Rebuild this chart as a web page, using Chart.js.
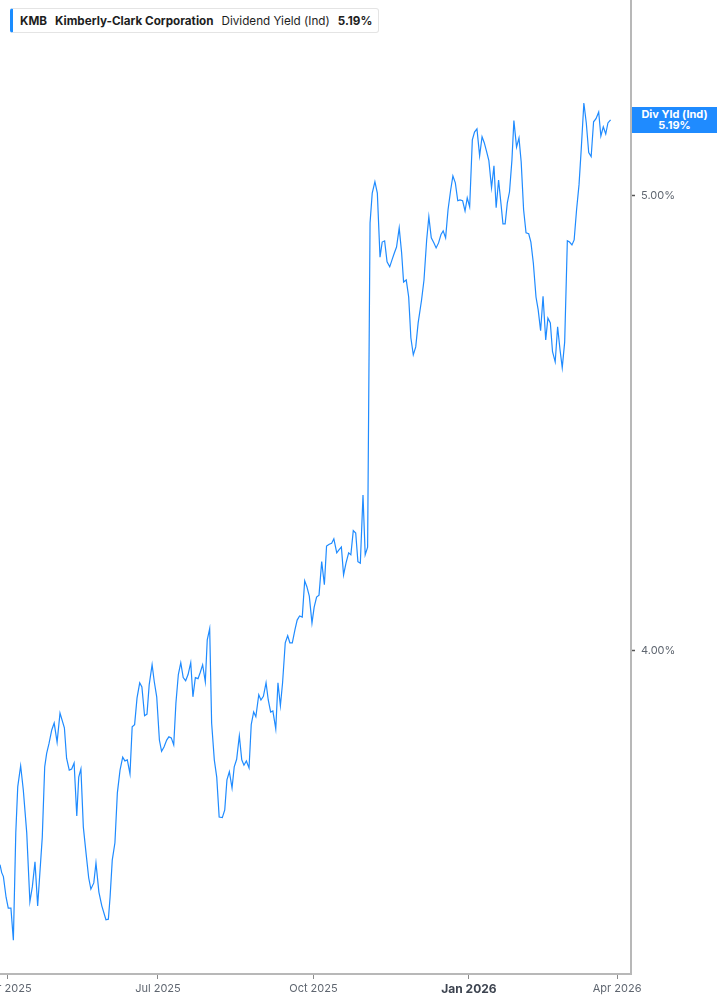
<!DOCTYPE html>
<html>
<head>
<meta charset="utf-8">
<script src="https://cdn.jsdelivr.net/npm/chart.js@4"></script>
<style>
  html, body { margin: 0; padding: 0; background: #fff; }
  #wrap { position: relative; width: 717px; height: 1005px; overflow: hidden; }
  canvas { position: absolute; left: 0; top: 0; }
  #legend {
    position: absolute; left: 10px; top: 8px; height: 23px;
    border: 1px solid #e4e4e4; border-left: 3px solid #1a8cff; border-radius: 3px;
    background: #fff; display: flex; align-items: center; padding: 0 6px 0 7px;
    font-family: Inter, "Noto Sans", sans-serif; font-size: 11.7px; color: #1e1e1e; white-space: nowrap;
  }
  #legend span { margin-right: 8px; }
  #legend span:last-child { margin-right: 0; }
  #legend .b { font-weight: 700; }
  #badge {
    position: absolute; left: 632px; width: 85px; height: 26px; background: #1f8bff; color: #fff;
    font-family: Inter, "Noto Sans", sans-serif; font-size: 11px; font-weight: 700; line-height: 11px;
    display: flex; flex-direction: column; justify-content: center; align-items: center; text-align: center;
  }
</style>
</head>
<body>
<div id="wrap">
  <canvas id="c" width="717" height="1005"></canvas>
  <div id="legend"><span class="b">KMB</span><span class="b">Kimberly-Clark Corporation</span><span>Dividend Yield (Ind)</span><span class="b">5.19%</span></div>
  <div id="badge"><div>Div Yld (Ind)</div><div>5.19%</div></div>
</div>
<script>
// Trading sessions counted from the first plotted day (27 Mar 2025)
const sessionIndex = [
  0,0.7,1.4,2.5,3.4,4.5,5.5,6.5,7.3,8.5,9.6,11.0,12.3,13.3,14.4,15.5,16.5,17.4,18.4,19.2,20.2,21.3,22.3,23.5,24.7,26.5,27.4,28.5,29.5,30.5,31.6,32.4,33.3,34.3,35.4,36.5,37.4,38.6,39.5,40.7,41.9,43.6,44.6,45.3,
  46.2,47.3,48.3,49.4,50.5,51.4,52.4,53.5,54.4,55.4,56.4,57.5,58.4,59.5,60.5,61.4,62.6,63.5,64.5,65.6,66.5,67.5,68.6,69.5,70.5,71.5,72.4,73.4,74.4,75.4,76.4,77.4,78.5,79.4,80.4,81.5,82.4,83.4,84.5,85.3,86.3,87.1,88.2,89.2,90.2,
  91.5,92.5,93.4,94.4,95.5,96.4,97.4,98.5,99.5,100.4,101.4,102.5,103.4,104.4,105.3,106.5,107.4,108.4,109.5,110.4,111.4,112.3,113.5,114.4,115.4,116.3,117.4,118.4,119.3,120.3,121.4,122.3,123.3,124.4,125.4,126.3,127.3,128.4,129.3,130.3,131.3,132.4,133.5,134.4,135.5,
  136.5,137.4,138.6,139.5,140.5,141.4,142.4,143.5,144.4,145.4,146.4,147.3,148.3,149.4,150.3,151.3,152.3,153.2,154.3,155.3,156.4,157.3,158.3,159.3,160.4,161.3,162.3,163.2,164.3,165.3,166.1,167.2,168.2,169.1,170.1,171.1,172.1,
  173.5,174.5,175.6,176.5,177.5,178.6,179.5,180.5,181.5,182.4,183.4,184.4,185.5,186.4,187.4,188.4,189.3,190.4,191.4,192.3,193.3,194.4,195.3,196.3,197.4,198.4,199.3,200.3,201.2,202.3,203.3,204.2,205.2,206.2,207.0,207.9,208.8,209.7,210.7,211.5,212.6,213.6,
  214.5,215.5,216.5,217.6,218.5,219.5,220.6,221.5,222.5,223.5,224.6,225.5,226.5,227.4,228.5,229.5,230.5,231.4,232.4,233.5,234.4,235.4,236.3,237.3,238.3,239.2,240.3,241.3,242.3,243.3,244.3,245.3,246.4,247.3,248.3,249.3,250.2,251.3
];
// Dividend yield (indicated), percent
const yieldPct = [
  3.602,3.588,3.581,3.545,3.526,3.526,3.471,3.659,3.742,3.781,3.736,3.659,3.537,3.563,3.607,3.530,3.593,3.651,3.779,3.804,3.823,3.848,3.861,3.825,3.880,3.852,3.795,3.773,3.775,3.786,3.689,3.760,3.775,3.669,3.623,3.579,3.559,3.570,3.605,3.554,3.530,3.506,3.507,3.545,
  3.610,3.641,3.731,3.773,3.797,3.790,3.792,3.766,3.854,3.858,3.909,3.938,3.930,3.875,3.878,3.934,3.973,3.940,3.911,3.829,3.808,3.816,3.829,3.835,3.833,3.820,3.899,3.954,3.977,3.948,3.942,3.954,3.977,3.911,3.948,3.946,3.958,3.973,3.940,4.022,4.044,3.861,3.792,3.760,3.687,
  3.686,3.700,3.755,3.770,3.740,3.779,3.793,3.837,3.792,3.782,3.790,3.777,3.858,3.882,3.873,3.915,3.905,3.912,3.938,3.905,3.882,3.884,3.850,3.938,3.894,3.938,4.016,4.030,4.016,4.016,4.042,4.061,4.069,4.067,4.140,4.128,4.109,4.055,4.087,4.107,4.111,4.179,4.132,4.211,4.215,
  4.217,4.226,4.197,4.203,4.209,4.152,4.176,4.197,4.193,4.243,4.238,4.179,4.176,4.318,4.193,4.209,4.934,5.007,5.035,5.007,4.852,4.888,4.891,4.841,4.829,4.845,4.862,4.876,4.922,4.862,4.793,4.798,4.758,4.664,4.625,4.643,4.698,
  4.751,4.798,4.893,4.949,4.898,4.886,4.874,4.886,4.906,4.915,4.898,4.966,5.015,5.049,5.032,4.988,4.990,4.988,4.963,4.995,4.973,5.139,5.159,5.167,5.099,5.147,5.132,5.109,5.087,5.020,5.074,4.971,5.039,4.980,4.932,4.932,4.983,5.010,5.089,5.188,5.121,5.144,
  5.084,4.966,4.910,4.908,4.888,4.838,4.758,4.728,4.680,4.760,4.659,4.709,4.698,4.632,4.609,4.689,4.636,4.596,4.654,4.891,4.888,4.881,4.893,4.966,5.027,5.114,5.233,5.182,5.107,5.097,5.185,5.193,5.210,5.149,5.172,5.154,5.182,5.190
];
const xTickSessions = [3, 65, 129, 193, 254];
const xTickLabels = ["Apr 2025", "Jul 2025", "Oct 2025", "Jan 2026", "Apr 2026"];
const boldTickLabel = "Jan 2026";
const yTickValues = [4, 5];

const points = sessionIndex.map((s, i) => ({ x: s, y: yieldPct[i] }));
const lineColor = '#1f8bff';

function isBoldTick(ctx) {
  if (!ctx || !ctx.tick) return false;
  return xTickLabels[xTickSessions.indexOf(ctx.tick.value)] === boldTickLabel;
}

const badgePlugin = {
  id: 'badgePos',
  afterDraw(chart) {
    const ys = chart.scales.y;
    const last = yieldPct[yieldPct.length - 1];
    const py = ys.getPixelForValue(last);
    document.getElementById('badge').style.top = (py - 13) + 'px';
  }
};

new Chart(document.getElementById('c'), {
  type: 'line',
  data: {
    datasets: [{
      data: points,
      borderColor: lineColor,
      borderWidth: 1.2,
      pointRadius: 0,
      tension: 0,
      fill: false
    }]
  },
  options: {
    responsive: false,
    animation: false,
    devicePixelRatio: 1,
    layout: { padding: 0 },
    plugins: { legend: { display: false }, tooltip: { enabled: false } },
    scales: {
      x: {
        type: 'linear',
        bounds: 'data',
        min: 0,
        max: 259.7,
        afterBuildTicks(scale) {
          scale.ticks = xTickSessions.map(v => ({ value: v }));
        },
        afterFit(scale) {
          scale.height = 31;
          scale.paddingLeft = 0;
          scale.paddingRight = 0;
        },
        grid: { display: true, drawOnChartArea: false, drawTicks: true, tickLength: 5, color: '#8a8a8a', tickColor: '#8a8a8a' },
        border: { display: true, color: '#b8b8b8', width: 2 },
        ticks: {
          autoSkip: false,
          maxRotation: 0,
          padding: 3,
          color: (ctx) => (isBoldTick(ctx) ? '#3d4450' : '#5f6670'),
          font: (ctx) => (isBoldTick(ctx)
            ? { family: 'Inter', size: 12, weight: 'bold' }
            : { family: 'Inter', size: 11 }),
          callback: (v) => xTickLabels[xTickSessions.indexOf(v)]
        }
      },
      y: {
        type: 'logarithmic',
        position: 'right',
        bounds: 'data',
        min: 3.414,
        max: 5.504,
        afterBuildTicks(scale) {
          scale.ticks = yTickValues.map(v => ({ value: v }));
        },
        afterFit(scale) {
          scale.width = 86;
          scale.paddingTop = 0;
          scale.paddingBottom = 0;
        },
        grid: { display: true, drawOnChartArea: false, drawTicks: true, tickLength: 4, tickColor: '#555', tickWidth: 1.5 },
        border: { display: true, color: '#b8b8b8', width: 2 },
        ticks: {
          padding: 6,
          color: '#5f6670',
          font: { family: 'Inter', size: 11 },
          callback: (v) => Number(v).toFixed(2) + '%'
        }
      }
    }
  },
  plugins: [badgePlugin]
});
</script>
</body>
</html>
